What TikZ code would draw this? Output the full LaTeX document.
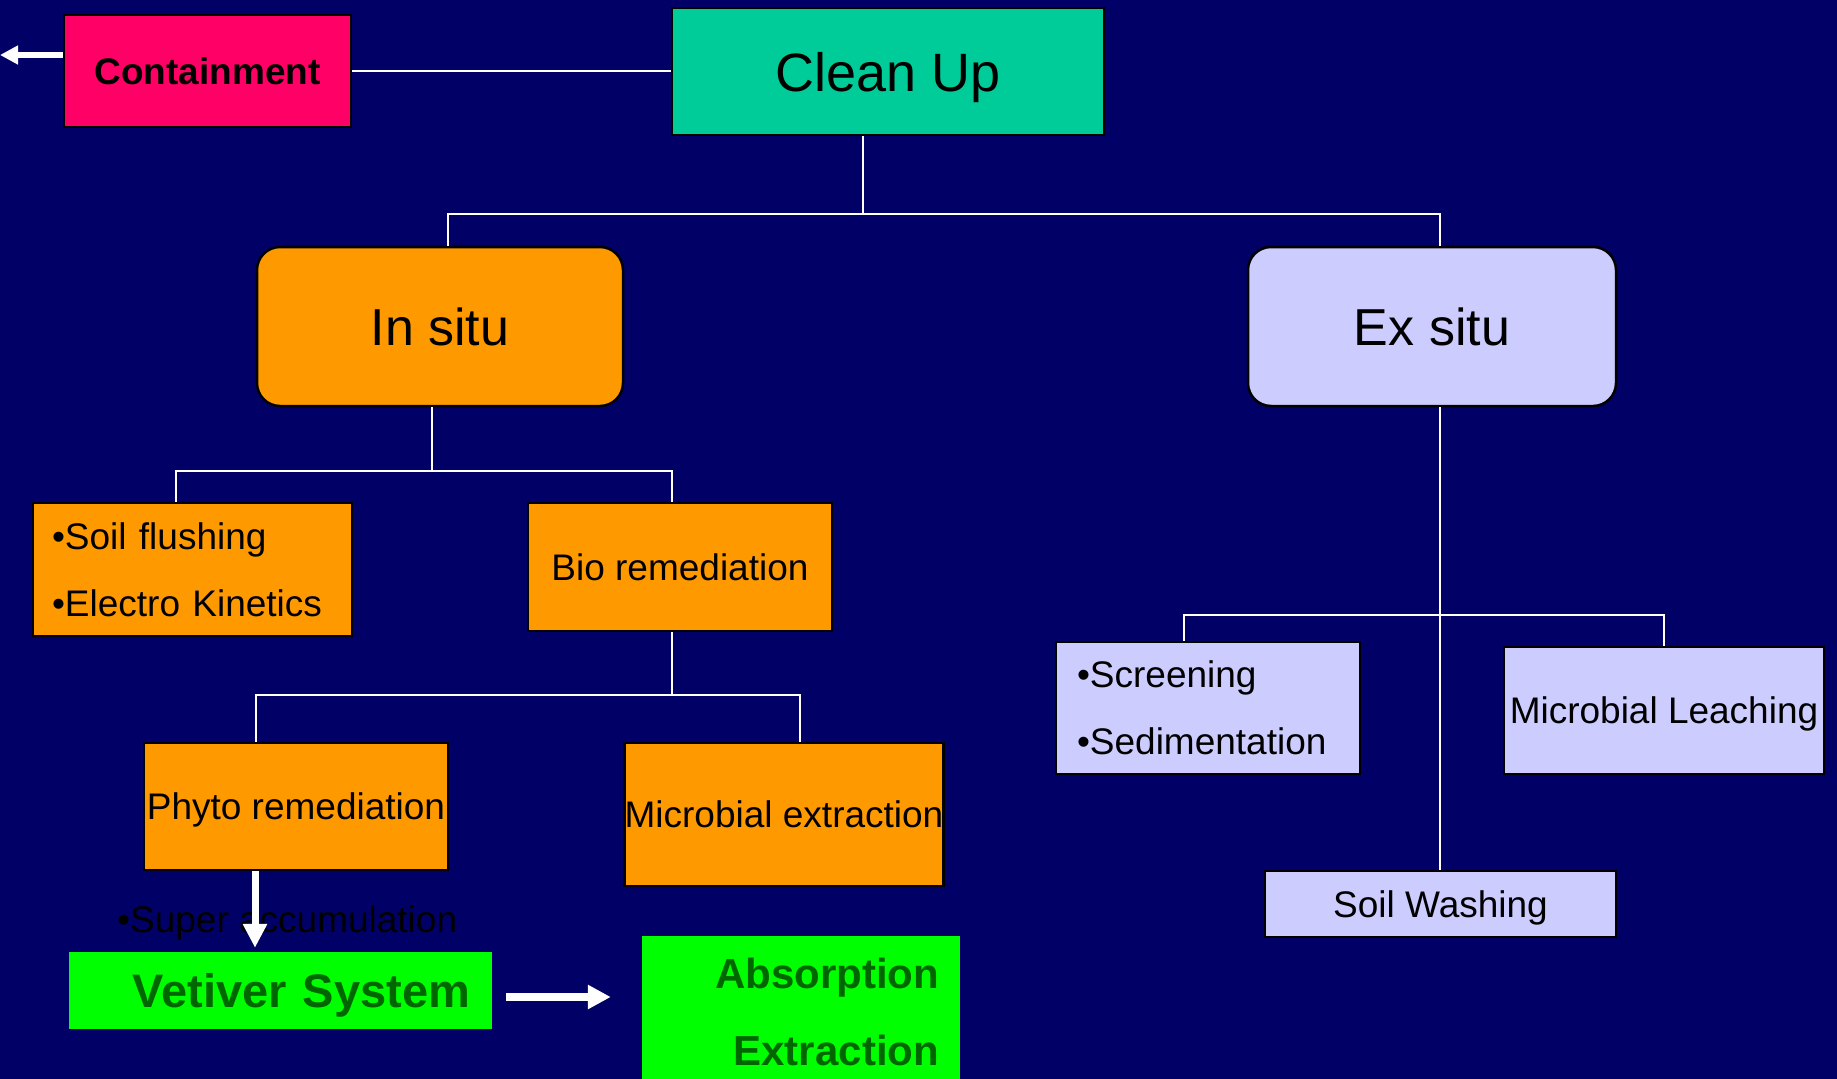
\documentclass[tikz,border=0pt]{standalone}
\usepackage{fontspec}
\setmainfont{Liberation Sans}
\usepackage{tikz}
\usetikzlibrary{arrows.meta}
\definecolor{slidebg}{RGB}{0,0,102}
\definecolor{pinkred}{RGB}{255,0,102}
\definecolor{seagreen}{RGB}{0,204,153}
\definecolor{insitucol}{RGB}{255,153,0}
\definecolor{exsitucol}{RGB}{204,204,255}
\definecolor{limebox}{RGB}{0,255,0}
\definecolor{limetext}{RGB}{0,102,0}

\begin{document}
\begin{tikzpicture}[x=1pt, y=-1pt,
  frame/.style={draw=black, line width=2.5pt, inner sep=0pt},
  box/.style={frame, align=center, text depth=0pt, font=\fontsize{37}{44}\selectfont},
  rbox/.style={box, rounded corners=23pt, font=\fontsize{52}{62}\selectfont},
  lst/.style={frame, align=left, font=\fontsize{37}{67}\selectfont},
  gbox/.style={fill=limebox, text=limetext, inner ysep=0pt, align=right},
  conn/.style={draw=white, line width=2pt},
  bigarrow/.style={draw=white, line width=7pt}]
  \fill[slidebg] (0,0) rectangle (1837,1079);
  \useasboundingbox (0,0) rectangle (1837,1079);
  % top level
  \node[box, fill=pinkred, minimum width=287pt, minimum height=112pt,
        font=\bfseries\fontsize{37}{44}\selectfont] (containment) at (207.5,71) {Containment};
  \node[box, fill=seagreen, minimum width=432pt, minimum height=127pt,
        font=\fontsize{54}{64}\selectfont] (cleanup) at (888,71.5) {Clean Up};
  \node[rbox, fill=insitucol, minimum width=366pt, minimum height=159pt] (insitu) at (440,326.5) {In situ};
  \node[rbox, fill=exsitucol, minimum width=368pt, minimum height=159pt] (exsitu) at (1432,326.5) {Ex situ};
  % in situ branch
  \node[lst, fill=insitucol, text width=281pt, inner xsep=19pt, minimum height=133pt] (flushing) at (192.5,569.5) {•Soil flushing\\•Electro Kinetics};
  \node[box, fill=insitucol, minimum width=304pt, minimum height=128pt] (bio) at (680,567) {Bio remediation};
  \node[box, fill=insitucol, minimum width=304pt, minimum height=127pt] (phyto) at (296,806.5) {Phyto remediation};
  \node[box, fill=insitucol, minimum width=318pt, minimum height=143pt] (microext) at (784,814.5) {Microbial extraction};
  % ex situ branch
  \node[lst, fill=exsitucol, text width=262pt, inner xsep=21pt, minimum height=132pt] (screening) at (1208,708) {•Screening\\•Sedimentation};
  \node[box, fill=exsitucol, minimum width=320pt, minimum height=127pt] (leaching) at (1664,710.5) {Microbial Leaching};
  \node[box, fill=exsitucol, minimum width=351pt, minimum height=66pt] (washing) at (1440.5,904) {Soil Washing};
  % vetiver
  \node[anchor=base west, inner sep=0pt, font=\fontsize{37}{44}\selectfont] (superacc) at (117,932) {•Super accumulation};
  \node[gbox, text width=379pt, inner xsep=22pt, minimum height=77pt, text depth=0pt,
        font=\bfseries\fontsize{47}{56}\selectfont] (vetiver) at (280.5,990.5) {Vetiver System};
  \node[gbox, text width=276pt, inner xsep=21pt, minimum height=152pt,
        font=\bfseries\fontsize{42}{77}\selectfont] (absex) at (801,1012) {Absorption\\Extraction};

  % tree lines
  \coordinate (t0) at (863,214);
  \coordinate (t1) at (448,214);
  \coordinate (t2) at (1440,214);
  \draw[conn] (containment.east) -- (containment.east -| cleanup.west);
  \draw[conn] (cleanup.south -| t0) -- (t0);
  \draw[conn] (insitu.north -| t1) -- (t1) -- (t2) -- (exsitu.north -| t2);
  \coordinate (s0) at (432,471);
  \coordinate (s1) at (176,471);
  \coordinate (s2) at (672,471);
  \draw[conn] (insitu.south -| s0) -- (s0);
  \draw[conn] (flushing.north -| s1) -- (s1) -- (s2) -- (bio.north -| s2);
  \coordinate (b0) at (672,695);
  \coordinate (b1) at (256,695);
  \coordinate (b2) at (800,695);
  \draw[conn] (bio.south -| b0) -- (b0);
  \draw[conn] (phyto.north -| b1) -- (b1) -- (b2) -- (microext.north -| b2);
  \coordinate (e0) at (1440,615);
  \coordinate (e1) at (1184,615);
  \coordinate (e2) at (1664,615);
  \draw[conn] (exsitu.south -| e0) -- (washing.north -| e0);
  \draw[conn] (screening.north -| e1) -- (e1) -- (e2) -- (leaching.north -| e2);

  % thick arrows
  \coordinate (ca) at (0,55);
  \coordinate (pa) at (255,0);
  \coordinate (va) at (0,997);
  \draw[bigarrow, line width=6pt, -{Triangle[length=18pt,width=18pt]}] (containment.west |- ca) -- (ca);
  \draw[bigarrow, -{Triangle[length=24pt,width=23pt]}, shorten >=4pt] (phyto.south -| pa) -- (vetiver.north -| pa);
  \draw[bigarrow, line width=8pt, -{Triangle[length=23pt,width=23pt]}, shorten <=14pt, shorten >=31pt] (vetiver.east |- va) -- (absex.west |- va);
\end{tikzpicture}
\end{document}
